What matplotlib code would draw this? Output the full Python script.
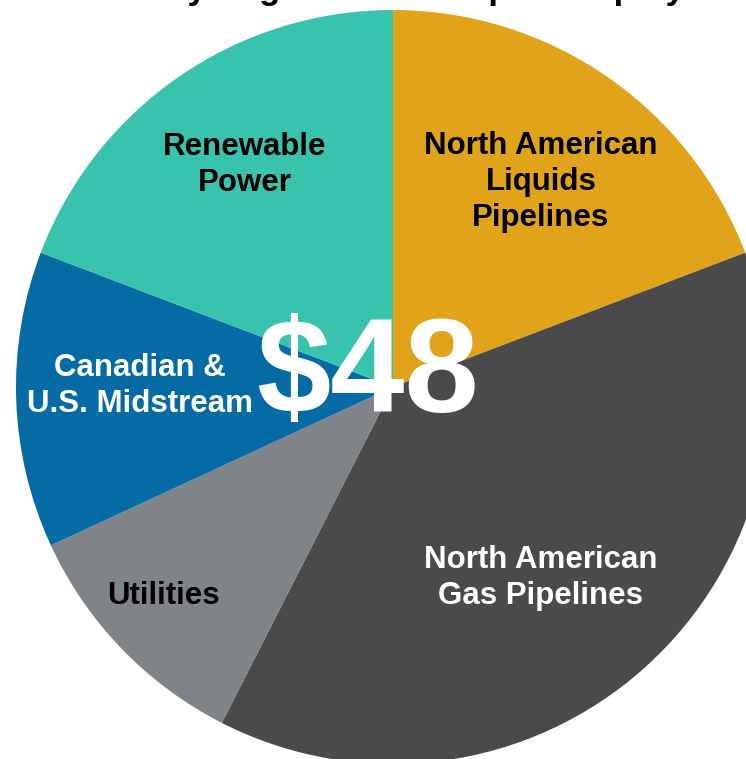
import matplotlib.pyplot as plt

plt.rcParams['font.family'] = ['Liberation Sans', 'DejaVu Sans']

# segments, clockwise from 12 o'clock
segmentos = ["North American\nLiquids\nPipelines", "North American\nGas Pipelines",
             "Utilities", "Canadian &\nU.S. Midstream", "Renewable\nPower"]
valores = [19.2, 38.3, 10.6, 12.7, 19.2]
cores = ["#E1A31A", "#4A4A4A", "#808387", "#056BA4", "#37C3AC"]
cor_texto = ["black", "white", "black", "white", "black"]
total = "$48"
titulo = "Diversified by Segment and Capital Deployment by Year"

W, H = 746, 759
fig = plt.figure(figsize=(W / 100, H / 100), dpi=100)
ax = fig.add_axes([0, 0, 1, 1])

ax.pie(valores, colors=cores, startangle=90, counterclock=False,
       center=(393, H - 387), radius=377, wedgeprops={"linewidth": 0})
ax.set_xlim(0, W)
ax.set_ylim(0, H)
ax.set_aspect("equal")
ax.axis("off")

# label positions in pixels (x, y from top)
pos = [(541, 182), (541, 578), (163, 596), (140, 386), (245, 165)]
for txt, (x, y), c in zip(segmentos, pos, cor_texto):
    ax.text(x, H - y, txt, ha="center", va="center", color=c,
            fontsize=22.5, fontweight="bold", linespacing=1.24)

ax.text(368, H - 378, total, ha="center", va="center", color="white",
        fontsize=96, fontweight="bold")

# title cut off at the top of the picture
ax.text(440, H + 1, titulo, ha="center", va="baseline", color="black",
        fontsize=25, fontweight="bold", clip_on=False)

fig.savefig("out.png", dpi=100)
